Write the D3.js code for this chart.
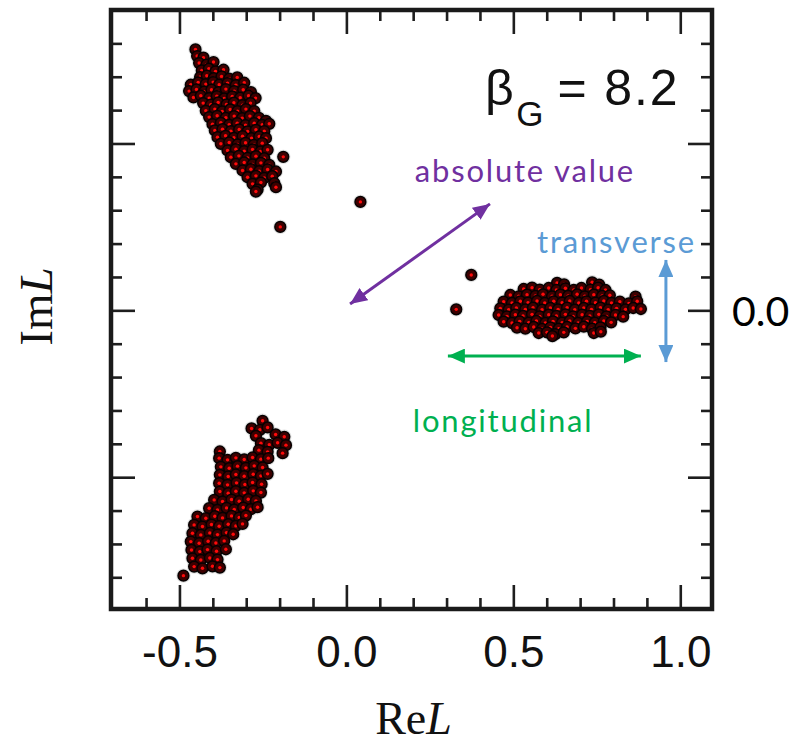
<!DOCTYPE html>
<html>
<head>
<meta charset="utf-8">
<script src="https://cdn.jsdelivr.net/npm/d3@7"></script>
<style>
  body { margin: 0; background: #fff; }
  svg { display: block; }
</style>
</head>
<body>
<svg id="chart" width="807" height="743"></svg>
<script>
// Polyakov-loop scatter: eigenvalue clusters in the complex plane
const xDomain = [-0.705, 1.095];
const yDomain = [-0.895, 0.9];
const xMajorTicks = [-0.5, 0.0, 0.5, 1.0];
const xTickLabels = ["-0.5", "0.0", "0.5", "1.0"];
const yMajorTicks = [-0.5, 0.0, 0.5];
const rightTickValue = 0.0;
const rightTickLabel = "0.0";
const couplingLabel = "8.2";

// upper-left sector (arg ~ +2π/3)
const clusterUpper = [
  [-0.452,0.782],
  [-0.447,0.762],[-0.428,0.757],
  [-0.441,0.741],[-0.419,0.736],[-0.398,0.744],
  [-0.433,0.719],[-0.412,0.724],[-0.392,0.716],[-0.368,0.721],
  [-0.438,0.699],[-0.418,0.703],[-0.397,0.696],[-0.374,0.701],[-0.351,0.694],[-0.327,0.698],
  [-0.466,0.676],[-0.444,0.683],[-0.421,0.678],[-0.399,0.684],[-0.381,0.676],[-0.356,0.681],[-0.331,0.675],[-0.306,0.682],
  [-0.471,0.657],[-0.449,0.662],[-0.426,0.655],[-0.404,0.661],[-0.383,0.654],[-0.361,0.663],[-0.336,0.657],[-0.309,0.661],[-0.286,0.654],
  [-0.458,0.638],[-0.436,0.643],[-0.411,0.636],[-0.388,0.642],[-0.366,0.635],[-0.342,0.641],[-0.318,0.637],[-0.293,0.643],[-0.272,0.636],
  [-0.429,0.621],[-0.406,0.616],[-0.384,0.623],[-0.359,0.617],[-0.337,0.622],[-0.311,0.615],[-0.287,0.621],
  [-0.421,0.598],[-0.394,0.603],[-0.372,0.596],[-0.348,0.602],[-0.326,0.597],[-0.301,0.603],[-0.276,0.597],
  [-0.411,0.579],[-0.387,0.583],[-0.361,0.577],[-0.336,0.582],[-0.312,0.576],[-0.289,0.582],[-0.262,0.577],[-0.241,0.568],
  [-0.401,0.558],[-0.376,0.562],[-0.351,0.556],[-0.327,0.561],[-0.302,0.555],[-0.276,0.561],[-0.252,0.556],[-0.231,0.559],
  [-0.394,0.539],[-0.371,0.543],[-0.346,0.537],[-0.321,0.542],[-0.296,0.536],[-0.271,0.541],[-0.246,0.537],
  [-0.386,0.519],[-0.362,0.523],[-0.337,0.517],[-0.311,0.522],[-0.284,0.516],[-0.261,0.521],[-0.241,0.516],
  [-0.376,0.499],[-0.351,0.503],[-0.326,0.497],[-0.302,0.502],[-0.277,0.496],[-0.252,0.501],
  [-0.356,0.479],[-0.331,0.483],[-0.306,0.477],[-0.281,0.482],[-0.257,0.476],[-0.236,0.481],
  [-0.346,0.459],[-0.322,0.463],[-0.296,0.457],[-0.271,0.462],[-0.246,0.456],[-0.189,0.460],
  [-0.331,0.439],[-0.306,0.443],[-0.281,0.437],[-0.256,0.442],[-0.231,0.436],
  [-0.311,0.419],[-0.286,0.423],[-0.261,0.417],[-0.236,0.422],[-0.211,0.416],
  [-0.296,0.399],[-0.271,0.403],[-0.246,0.397],[-0.222,0.402],
  [-0.281,0.379],[-0.256,0.383],[-0.216,0.381],
  [-0.266,0.362],[-0.211,0.369],[-0.271,0.356]
];

// real sector (arg ~ 0)
const clusterReal = [
  [0.631,0.082],[0.652,0.078],[0.736,0.084],[0.757,0.077],
  [0.531,0.064],[0.556,0.068],[0.579,0.062],[0.606,0.067],[0.629,0.061],[0.656,0.066],[0.681,0.061],[0.704,0.067],[0.731,0.062],[0.754,0.068],[0.776,0.061],
  [0.491,0.046],[0.516,0.042],[0.541,0.047],[0.566,0.043],[0.589,0.048],[0.616,0.042],[0.641,0.047],[0.664,0.043],[0.691,0.048],[0.714,0.042],[0.741,0.047],[0.766,0.043],[0.789,0.045],[0.866,0.041],
  [0.471,0.026],[0.496,0.022],[0.521,0.027],[0.544,0.023],[0.571,0.028],[0.594,0.022],[0.621,0.027],[0.646,0.023],[0.669,0.028],[0.696,0.022],[0.719,0.027],[0.746,0.023],[0.771,0.028],[0.794,0.022],[0.819,0.026],[0.846,0.021],[0.871,0.027],
  [0.461,0.006],[0.486,0.002],[0.509,0.007],[0.536,0.003],[0.559,0.008],[0.586,0.002],[0.611,0.007],[0.634,0.003],[0.661,0.008],[0.684,0.002],[0.711,0.007],[0.734,0.003],[0.761,0.008],[0.784,0.002],[0.809,0.006],[0.836,0.003],[0.859,0.007],[0.882,0.004],
  [0.456,-0.014],[0.481,-0.018],[0.506,-0.013],[0.529,-0.017],[0.556,-0.012],[0.579,-0.018],[0.606,-0.013],[0.629,-0.017],[0.656,-0.012],[0.679,-0.018],[0.706,-0.013],[0.729,-0.017],[0.756,-0.012],[0.779,-0.018],[0.806,-0.014],[0.829,-0.019],
  [0.471,-0.034],[0.496,-0.038],[0.519,-0.033],[0.546,-0.037],[0.569,-0.032],[0.596,-0.038],[0.619,-0.033],[0.646,-0.037],[0.669,-0.032],[0.694,-0.038],[0.721,-0.033],[0.744,-0.037],[0.771,-0.032],[0.793,-0.036],
  [0.511,-0.052],[0.536,-0.055],[0.561,-0.050],[0.586,-0.056],[0.611,-0.051],[0.636,-0.055],[0.661,-0.050],[0.686,-0.054],[0.711,-0.049],[0.736,-0.055],[0.761,-0.051],
  [0.576,-0.068],[0.601,-0.066],[0.626,-0.071],[0.651,-0.066],[0.741,-0.068],[0.762,-0.064],
  [0.617,-0.077]
];

// lower-left sector (arg ~ -2π/3)
const clusterLower = [
  [-0.251,-0.331],
  [-0.284,-0.354],[-0.259,-0.358],[-0.236,-0.351],
  [-0.271,-0.376],[-0.212,-0.372],[-0.186,-0.379],
  [-0.256,-0.398],[-0.231,-0.403],[-0.206,-0.397],[-0.181,-0.404],
  [-0.379,-0.423],[-0.262,-0.419],[-0.236,-0.424],[-0.191,-0.428],
  [-0.381,-0.443],[-0.356,-0.448],[-0.331,-0.442],[-0.306,-0.447],[-0.281,-0.441],[-0.256,-0.446],[-0.234,-0.443],
  [-0.376,-0.469],[-0.351,-0.473],[-0.326,-0.467],[-0.301,-0.472],[-0.276,-0.466],[-0.251,-0.471],
  [-0.379,-0.493],[-0.354,-0.498],[-0.331,-0.492],[-0.306,-0.497],[-0.279,-0.491],[-0.256,-0.496],[-0.236,-0.490],
  [-0.381,-0.518],[-0.356,-0.523],[-0.329,-0.517],[-0.304,-0.522],[-0.281,-0.516],[-0.254,-0.521],
  [-0.379,-0.543],[-0.354,-0.548],[-0.331,-0.542],[-0.306,-0.547],[-0.279,-0.541],[-0.256,-0.546],
  [-0.396,-0.568],[-0.371,-0.573],[-0.344,-0.567],[-0.321,-0.572],[-0.294,-0.566],[-0.271,-0.571],
  [-0.411,-0.593],[-0.386,-0.598],[-0.359,-0.592],[-0.336,-0.597],[-0.309,-0.591],[-0.286,-0.596],[-0.266,-0.590],
  [-0.446,-0.618],[-0.421,-0.623],[-0.394,-0.617],[-0.371,-0.622],[-0.344,-0.616],[-0.321,-0.621],[-0.301,-0.615],
  [-0.456,-0.643],[-0.431,-0.648],[-0.404,-0.642],[-0.381,-0.647],[-0.354,-0.641],[-0.331,-0.646],[-0.311,-0.640],
  [-0.461,-0.668],[-0.436,-0.673],[-0.409,-0.667],[-0.386,-0.672],[-0.359,-0.666],[-0.339,-0.671],
  [-0.466,-0.693],[-0.441,-0.698],[-0.414,-0.692],[-0.391,-0.697],[-0.366,-0.691],
  [-0.464,-0.718],[-0.439,-0.723],[-0.416,-0.717],[-0.389,-0.722],[-0.361,-0.716],
  [-0.461,-0.743],[-0.436,-0.748],[-0.409,-0.742],[-0.386,-0.747],
  [-0.456,-0.768],[-0.431,-0.773],[-0.401,-0.767],[-0.379,-0.771],
  [-0.488,-0.795]
];

// isolated configurations between the sectors
const strayPoints = [
  [-0.198,0.250],[0.042,0.325],[0.374,0.106],[0.329,0.003]
];

const svg = d3.select("#chart");
const frame = { left: 111, right: 712, top: 10, bottom: 609 };

const x = d3.scaleLinear().domain(xDomain).range([frame.left, frame.right]);
const y = d3.scaleLinear().domain(yDomain).range([frame.bottom, frame.top]);

const minorX = d3.range(-6, 11).map(d => d / 10).filter(d => !xMajorTicks.includes(d));
const minorY = d3.range(-8, 9).map(d => d / 10).filter(d => !yMajorTicks.includes(d));

const tickColor = "#1e1e1e";
const minorLen = 11, majorLen = 24;

function styleAxis(g) {
  g.select(".domain").remove();
  g.selectAll(".tick line").attr("stroke", tickColor).attr("stroke-width", 2.6);
}

// inward ticks on all four sides
const axesG = svg.append("g");
[
  [d3.axisBottom(x), `translate(0,${frame.bottom})`, minorX, minorLen],
  [d3.axisBottom(x), `translate(0,${frame.bottom})`, xMajorTicks, majorLen],
  [d3.axisTop(x), `translate(0,${frame.top})`, minorX, minorLen],
  [d3.axisTop(x), `translate(0,${frame.top})`, xMajorTicks, majorLen],
  [d3.axisLeft(y), `translate(${frame.left},0)`, minorY, minorLen],
  [d3.axisLeft(y), `translate(${frame.left},0)`, yMajorTicks, majorLen],
  [d3.axisRight(y), `translate(${frame.right},0)`, minorY, minorLen],
  [d3.axisRight(y), `translate(${frame.right},0)`, yMajorTicks, majorLen]
].forEach(([axis, tr, vals, len]) => {
  axesG.append("g")
    .attr("transform", tr)
    .call(axis.tickValues(vals).tickSize(-len).tickSizeOuter(0).tickFormat(""))
    .call(styleAxis);
});

// bottom tick labels
axesG.append("g")
  .attr("transform", `translate(0,${frame.bottom})`)
  .call(d3.axisBottom(x).tickValues(xMajorTicks).tickSize(0).tickPadding(27)
    .tickFormat((d, i) => xTickLabels[i]))
  .call(g => g.select(".domain").remove())
  .call(g => g.selectAll("text")
    .attr("font-family", "Liberation Sans, Arial, sans-serif")
    .attr("font-size", 44)
    .attr("fill", "#111"));

// frame
svg.append("rect")
  .attr("x", frame.left).attr("y", frame.top)
  .attr("width", frame.right - frame.left).attr("height", frame.bottom - frame.top)
  .attr("fill", "none").attr("stroke", "#1a1a1a").attr("stroke-width", 4.5);

// points
const allPoints = [].concat(clusterUpper, clusterReal, clusterLower, strayPoints);
const pts = svg.append("g");

pts.append("g").selectAll("circle")
  .data(allPoints).join("circle")
  .attr("cx", d => x(d[0])).attr("cy", d => y(d[1]))
  .attr("r", 7.2).attr("fill", "#c4c4c4").attr("opacity", 0.5);

const dot = pts.append("g").selectAll("g")
  .data(allPoints).join("g")
  .attr("transform", d => `translate(${x(d[0])},${y(d[1])})`);
dot.append("circle").attr("r", 5.4)
  .attr("fill", "#3d0000").attr("stroke", "#050000").attr("stroke-width", 1.5);
dot.append("circle").attr("r", 1.7).attr("fill", "#ff0a0a");

// annotation arrows
const defs = svg.append("defs");
function arrowHead(id, color) {
  defs.append("marker")
    .attr("id", id)
    .attr("viewBox", "0 0 17 15")
    .attr("refX", 17).attr("refY", 7.5)
    .attr("markerWidth", 17).attr("markerHeight", 15)
    .attr("markerUnits", "userSpaceOnUse")
    .attr("orient", "auto-start-reverse")
    .append("path").attr("d", "M0,0L17,7.5L0,15Z").attr("fill", color);
}
const purple = "#7030a0", blue = "#5b9bd5", green = "#00b050";
arrowHead("headPurple", purple);
arrowHead("headBlue", blue);
arrowHead("headGreen", green);

const arrows = [
  { from: [0.011, 0.019], to: [0.430, 0.319], color: purple, head: "headPurple" },
  { from: [0.957, 0.151], to: [0.957, -0.155], color: blue, head: "headBlue" },
  { from: [0.304, -0.137], to: [0.882, -0.137], color: green, head: "headGreen" }
];
svg.append("g").selectAll("line")
  .data(arrows).join("line")
  .attr("x1", d => x(d.from[0])).attr("y1", d => y(d.from[1]))
  .attr("x2", d => x(d.to[0])).attr("y2", d => y(d.to[1]))
  .attr("stroke", d => d.color).attr("stroke-width", 3)
  .attr("marker-start", d => `url(#${d.head})`)
  .attr("marker-end", d => `url(#${d.head})`);

// annotation labels
const annoFont = "Lato, 'Open Sans', sans-serif";
const notes = [
  { text: "absolute value", at: [0.205, 0.384], color: purple },
  { text: "transverse", at: [0.571, 0.172], color: blue },
  { text: "longitudinal", at: [0.199, -0.365], color: green }
];
svg.append("g").selectAll("text")
  .data(notes).join("text")
  .attr("x", d => x(d.at[0])).attr("y", d => y(d.at[1]))
  .attr("font-family", annoFont).attr("font-size", 31).attr("letter-spacing", 1.8)
  .attr("fill", d => d.color)
  .text(d => d.text);

// coupling label
const beta = svg.append("g").attr("font-family", "Liberation Sans, Arial, sans-serif").attr("fill", "#111");
beta.append("text").attr("x", x(0.415)).attr("y", y(0.615)).attr("font-size", 50).text("β");
beta.append("text").attr("x", x(0.509)).attr("y", y(0.552)).attr("font-size", 35).text("G");
beta.append("text").attr("x", x(0.632)).attr("y", y(0.615)).attr("font-size", 50).text("=");
beta.append("text").attr("x", x(0.772)).attr("y", y(0.615)).attr("font-size", 50)
  .attr("letter-spacing", 2).text(couplingLabel);

// right-hand 0.0 marker
svg.append("text")
  .attr("x", frame.right + 20).attr("y", y(rightTickValue) + 16)
  .attr("font-family", annoFont).attr("font-size", 41).attr("fill", "#000")
  .text(rightTickLabel);

// axis titles
const serif = "'Liberation Serif', 'DejaVu Serif', serif";
const xt = svg.append("text")
  .attr("x", (frame.left + frame.right) / 2 + 2).attr("y", 734)
  .attr("text-anchor", "middle").attr("font-family", serif).attr("font-size", 46).attr("fill", "#111");
xt.append("tspan").text("Re");
xt.append("tspan").attr("font-style", "italic").text("L");

const yt = svg.append("text")
  .attr("transform", `translate(52,${(frame.top + frame.bottom) / 2 - 3}) rotate(-90)`)
  .attr("text-anchor", "middle").attr("font-family", serif).attr("font-size", 47).attr("fill", "#111");
yt.append("tspan").text("Im");
yt.append("tspan").attr("font-style", "italic").text("L");
</script>
</body>
</html>
